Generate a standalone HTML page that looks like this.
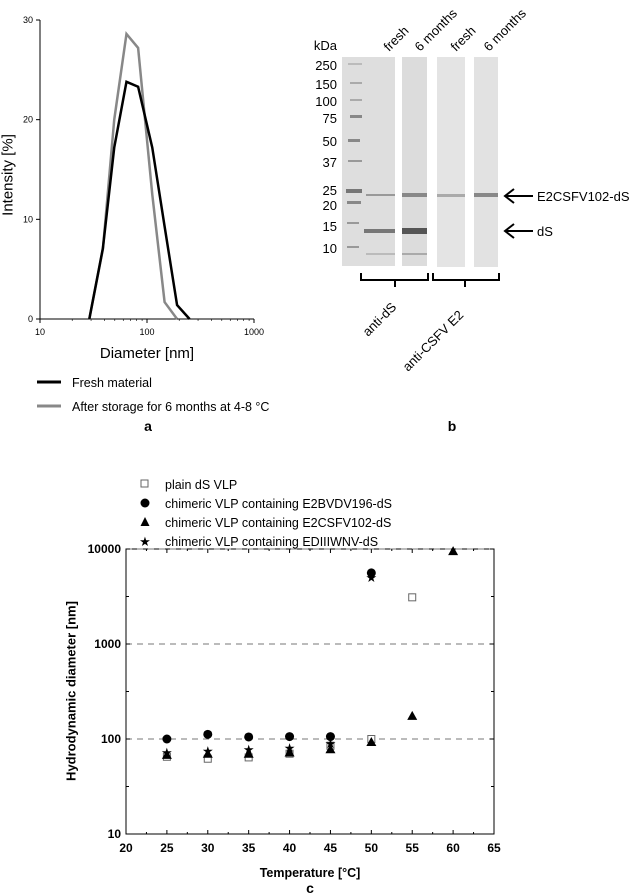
<!DOCTYPE html>
<html><head><meta charset="utf-8"><style>
body{margin:0;background:#fff;}
svg{display:block;font-family:"Liberation Sans",Arial,sans-serif;}
</style></head><body>
<svg id="fig" width="638" height="896" viewBox="0 0 638 896">
<!-- Panel a -->
<g id="pa">
  <line x1="40" y1="20" x2="40" y2="319" stroke="#000" stroke-width="1"/>
  <line x1="40" y1="319" x2="254" y2="319" stroke="#000" stroke-width="1"/>
  <text x="8" y="175" font-size="15" transform="rotate(-90 8 175)" text-anchor="middle" dominant-baseline="central">Intensity [%]</text>
  <text x="147" y="358" font-size="15" text-anchor="middle">Diameter [nm]</text>
  <g id="a-ticks"></g>
  <g id="a-lines"></g>
  <line x1="37" y1="382" x2="61" y2="382" stroke="#000" stroke-width="3"/>
  <text x="72" y="387" font-size="12.5">Fresh material</text>
  <line x1="37" y1="406" x2="61" y2="406" stroke="#888" stroke-width="3"/>
  <text x="72" y="411" font-size="12.5">After storage for 6 months at 4-8 °C</text>
  <text x="148" y="431" font-size="14" font-weight="bold" text-anchor="middle">a</text>
</g>
<!-- Panel b -->
<g id="pb">
  <rect x="342" y="57" width="53" height="209" fill="#dedede"/>
  <rect x="402" y="57" width="25" height="209" fill="#dcdcdc"/>
  <rect x="437" y="57" width="28" height="210" fill="#e4e4e4"/>
  <rect x="474" y="57" width="24" height="210" fill="#e2e2e2"/>
  <g id="bands">
    <rect x="348" y="63" width="14" height="2" fill="#bbb"/><rect x="350" y="82" width="12" height="2" fill="#aaa"/>
    <rect x="350" y="99" width="12" height="2" fill="#aaa"/><rect x="350" y="115" width="12" height="3" fill="#888"/>
    <rect x="348" y="139" width="12" height="3" fill="#888"/><rect x="348" y="160" width="14" height="2" fill="#999"/>
    <rect x="346" y="189" width="16" height="4" fill="#777"/><rect x="347" y="201" width="14" height="3" fill="#888"/>
    <rect x="347" y="222" width="12" height="2" fill="#999"/><rect x="347" y="246" width="12" height="2" fill="#999"/>
    <rect x="366" y="194" width="29" height="2" fill="#999"/><rect x="364" y="229" width="31" height="4" fill="#777"/>
    <rect x="366" y="253" width="29" height="2" fill="#bbb"/>
    <rect x="402" y="193" width="25" height="4" fill="#888"/><rect x="402" y="228" width="25" height="6" fill="#555"/>
    <rect x="402" y="253" width="25" height="2" fill="#aaa"/>
    <rect x="437" y="194" width="28" height="3" fill="#aaa"/>
    <rect x="474" y="193" width="24" height="4" fill="#888"/>
  </g>
  <g font-size="13" text-anchor="end">
    <text x="337" y="50">kDa</text><text x="337" y="70">250</text><text x="337" y="89">150</text>
    <text x="337" y="106">100</text><text x="337" y="123">75</text><text x="337" y="146">50</text>
    <text x="337" y="167">37</text><text x="337" y="195">25</text><text x="337" y="210">20</text>
    <text x="337" y="231">15</text><text x="337" y="253">10</text>
  </g>
  <g font-size="13">
    <text transform="translate(389,52) rotate(-45)">fresh</text>
    <text transform="translate(420,52) rotate(-45)">6 months</text>
    <text transform="translate(456,52) rotate(-45)">fresh</text>
    <text transform="translate(489,52) rotate(-45)">6 months</text>
  </g>
  <g stroke="#000" stroke-width="2" fill="none">
    <line x1="506" y1="196" x2="533" y2="196"/><polyline points="514,189 505,196 514,203"/>
    <line x1="506" y1="231" x2="533" y2="231"/><polyline points="514,224 505,231 514,238"/>
  </g>
  <text x="537" y="201" font-size="13">E2CSFV102-dS</text>
  <text x="537" y="236" font-size="13">dS</text>
  <g stroke="#000" stroke-width="2" fill="none">
    <polyline points="361,273 361,280 428,280 428,273"/><line x1="395" y1="280" x2="395" y2="287"/>
    <polyline points="433,273 433,280 499,280 499,273"/><line x1="465" y1="280" x2="465" y2="287"/>
  </g>
  <text transform="translate(368,337) rotate(-45)" font-size="13">anti-dS</text>
  <text transform="translate(408,372) rotate(-45)" font-size="13">anti-CSFV E2</text>
  <text x="452" y="431" font-size="14" font-weight="bold" text-anchor="middle">b</text>
</g>
<!-- Panel c -->
<g id="pc">
  <rect x="126" y="549" width="368" height="285" fill="none" stroke="#000" stroke-width="1"/>
  <g id="c-grid"></g>
  <g id="c-ticks"></g>
  <g id="c-points"></g>
  <text x="71" y="691" font-size="13" font-weight="bold" transform="rotate(-90 71 691)" text-anchor="middle" dominant-baseline="central">Hydrodynamic diameter [nm]</text>
  <text x="310" y="877" font-size="12.5" font-weight="bold" text-anchor="middle">Temperature [°C]</text>
  <text x="310" y="893" font-size="14" font-weight="bold" text-anchor="middle">c</text>
  <g font-size="12.5">
    <rect x="141" y="480" width="7" height="7" fill="#fff" stroke="#666"/>
    <text x="165" y="489">plain dS VLP</text>
    <circle cx="145" cy="503" r="4.5" fill="#000"/>
    <text x="165" y="508">chimeric VLP containing E2BVDV196-dS</text>
    <polygon points="145,517 140.5,526 149.5,526" fill="#000"/>
    <text x="165" y="527">chimeric VLP containing E2CSFV102-dS</text>
    <text x="145" y="546" font-size="13" text-anchor="middle">★</text>
    <text x="165" y="546">chimeric VLP containing EDIIIWNV-dS</text>
  </g>
</g>
</svg>
<script>
// Panel a data
const aDiam = [28.9, 38.7, 49.4, 64.3, 82.6, 112, 146, 191, 250];
const aFresh = [0, 7.1, 17.2, 23.8, 23.3, 17.2, 9.3, 1.4, 0];
const aStoredDiam = [28.9, 38.7, 49.4, 64.3, 82.6, 112, 146, 191];
const aStored = [0, 7.0, 20.0, 28.6, 27.2, 12.5, 1.7, 0];
const aXTicks = [10, 100, 1000];
const aYTicks = [0, 10, 20, 30];
// Panel c data
const cTemps = [25, 30, 35, 40, 45, 50, 55, 60];
const cPlain = [65, 62, 64, 70, 85, 100, 3100, null];
const cCircle = [100, 112, 105, 106, 106, 5600, null, null];
const cTriangle = [68, 70, 70, 72, 78, 93, 175, 9500];
const cStar = [72, 75, 78, 80, 90, 5000, null, null];
const cXTicks = [20, 25, 30, 35, 40, 45, 50, 55, 60, 65];
const cYTicks = [10, 100, 1000, 10000];

const NS = "http://www.w3.org/2000/svg";
function mk(tag, attrs, parent){const e=document.createElementNS(NS,tag);for(const k in attrs)e.setAttribute(k,attrs[k]);parent.appendChild(e);return e;}
const ax = d => 40 + (Math.log10(d) - 1) / 2 * 214;
const ay = v => 319 - v / 30 * 299;
const aT = document.getElementById('a-ticks');
aXTicks.forEach(t => {
  const l = mk('line',{x1:ax(t),y1:319,x2:ax(t),y2:323,stroke:'#000'},aT);
  
  
  const tx = mk('text',{x:ax(t),y:335,'font-size':9,'text-anchor':'middle'},aT); tx.textContent=t;
  
  
});
for(let dec=1;dec<3;dec++) for(let m=2;m<10;m++){ const v=m*Math.pow(10,dec); mk('line',{x1:ax(v),y1:319,x2:ax(v),y2:321,stroke:'#000','stroke-width':0.6},aT);}
aYTicks.forEach(t => {
  const l = mk('line',{x1:36,y1:ay(t),x2:40,y2:ay(t),stroke:'#000'},aT);
  
  
  const tx = mk('text',{x:33,y:ay(t)+3,'font-size':9,'text-anchor':'end'},aT); tx.textContent=t;
  
  
});
const aL = document.getElementById('a-lines');
const pS = mk('polyline',{points:aStoredDiam.map((d,i)=>ax(d)+','+ay(aStored[i])).join(' '),fill:'none',stroke:'#888','stroke-width':2.5,'stroke-linejoin':'miter'},aL);


const pF = mk('polyline',{points:aDiam.map((d,i)=>ax(d)+','+ay(aFresh[i])).join(' '),fill:'none',stroke:'#000','stroke-width':2.5},aL);



const cx = t => 126 + (t - 20) / 45 * 368;
const cy = v => 834 - (Math.log10(v) - 1) / 3 * 285;
const cG = document.getElementById('c-grid');
[100,1000,10000].forEach(v=>{
  const g = mk('line',{x1:126,y1:cy(v),x2:494,y2:cy(v),stroke:'#777','stroke-dasharray':'6,5'},cG);
  
  
});
const cT = document.getElementById('c-ticks');
cXTicks.forEach(t=>{
  mk('line',{x1:cx(t),y1:834,x2:cx(t),y2:830,stroke:'#000'},cT);
  mk('line',{x1:cx(t),y1:549,x2:cx(t),y2:553,stroke:'#000'},cT);
  if(t<65){mk('line',{x1:cx(t+2.5),y1:834,x2:cx(t+2.5),y2:832,stroke:'#000'},cT);mk('line',{x1:cx(t+2.5),y1:549,x2:cx(t+2.5),y2:551,stroke:'#000'},cT);}
  const tx = mk('text',{x:cx(t),y:852,'font-size':12,'font-weight':'bold','text-anchor':'middle'},cT); tx.textContent=t;
  
  
});
cYTicks.forEach(v=>{
  mk('line',{x1:126,y1:cy(v),x2:130,y2:cy(v),stroke:'#000'},cT);
  mk('line',{x1:494,y1:cy(v),x2:490,y2:cy(v),stroke:'#000'},cT);
  if(v<10000){const h=v*Math.sqrt(10);mk('line',{x1:126,y1:cy(h),x2:129,y2:cy(h),stroke:'#000'},cT);mk('line',{x1:494,y1:cy(h),x2:491,y2:cy(h),stroke:'#000'},cT);}
  const tx = mk('text',{x:121,y:cy(v)+4,'font-size':12,'font-weight':'bold','text-anchor':'end'},cT); tx.textContent=v;
  
  
});
const cP = document.getElementById('c-points');
cTemps.forEach((t,i)=>{
  const X=cx(t);
  if(cPlain[i]!=null){const e=mk('rect',{x:X-3.5,y:cy(cPlain[i])-3.5,width:7,height:7,fill:'#fff',stroke:'#666'},cP);
    
    }
  if(cCircle[i]!=null){const e=mk('circle',{cx:X,cy:cy(cCircle[i]),r:4.5,fill:'#000'},cP);
    
    }
  if(cTriangle[i]!=null){const Y=cy(cTriangle[i]);const e=mk('polygon',{points:`${X},${Y-5} ${X-5},${Y+4} ${X+5},${Y+4}`,fill:'#000'},cP);
    
    }
  if(cStar[i]!=null){const e=mk('text',{x:X,y:cy(cStar[i])+4.5,'font-size':13,'text-anchor':'middle'},cP);e.textContent='★';
    
    }
});
</script>
</body></html>
